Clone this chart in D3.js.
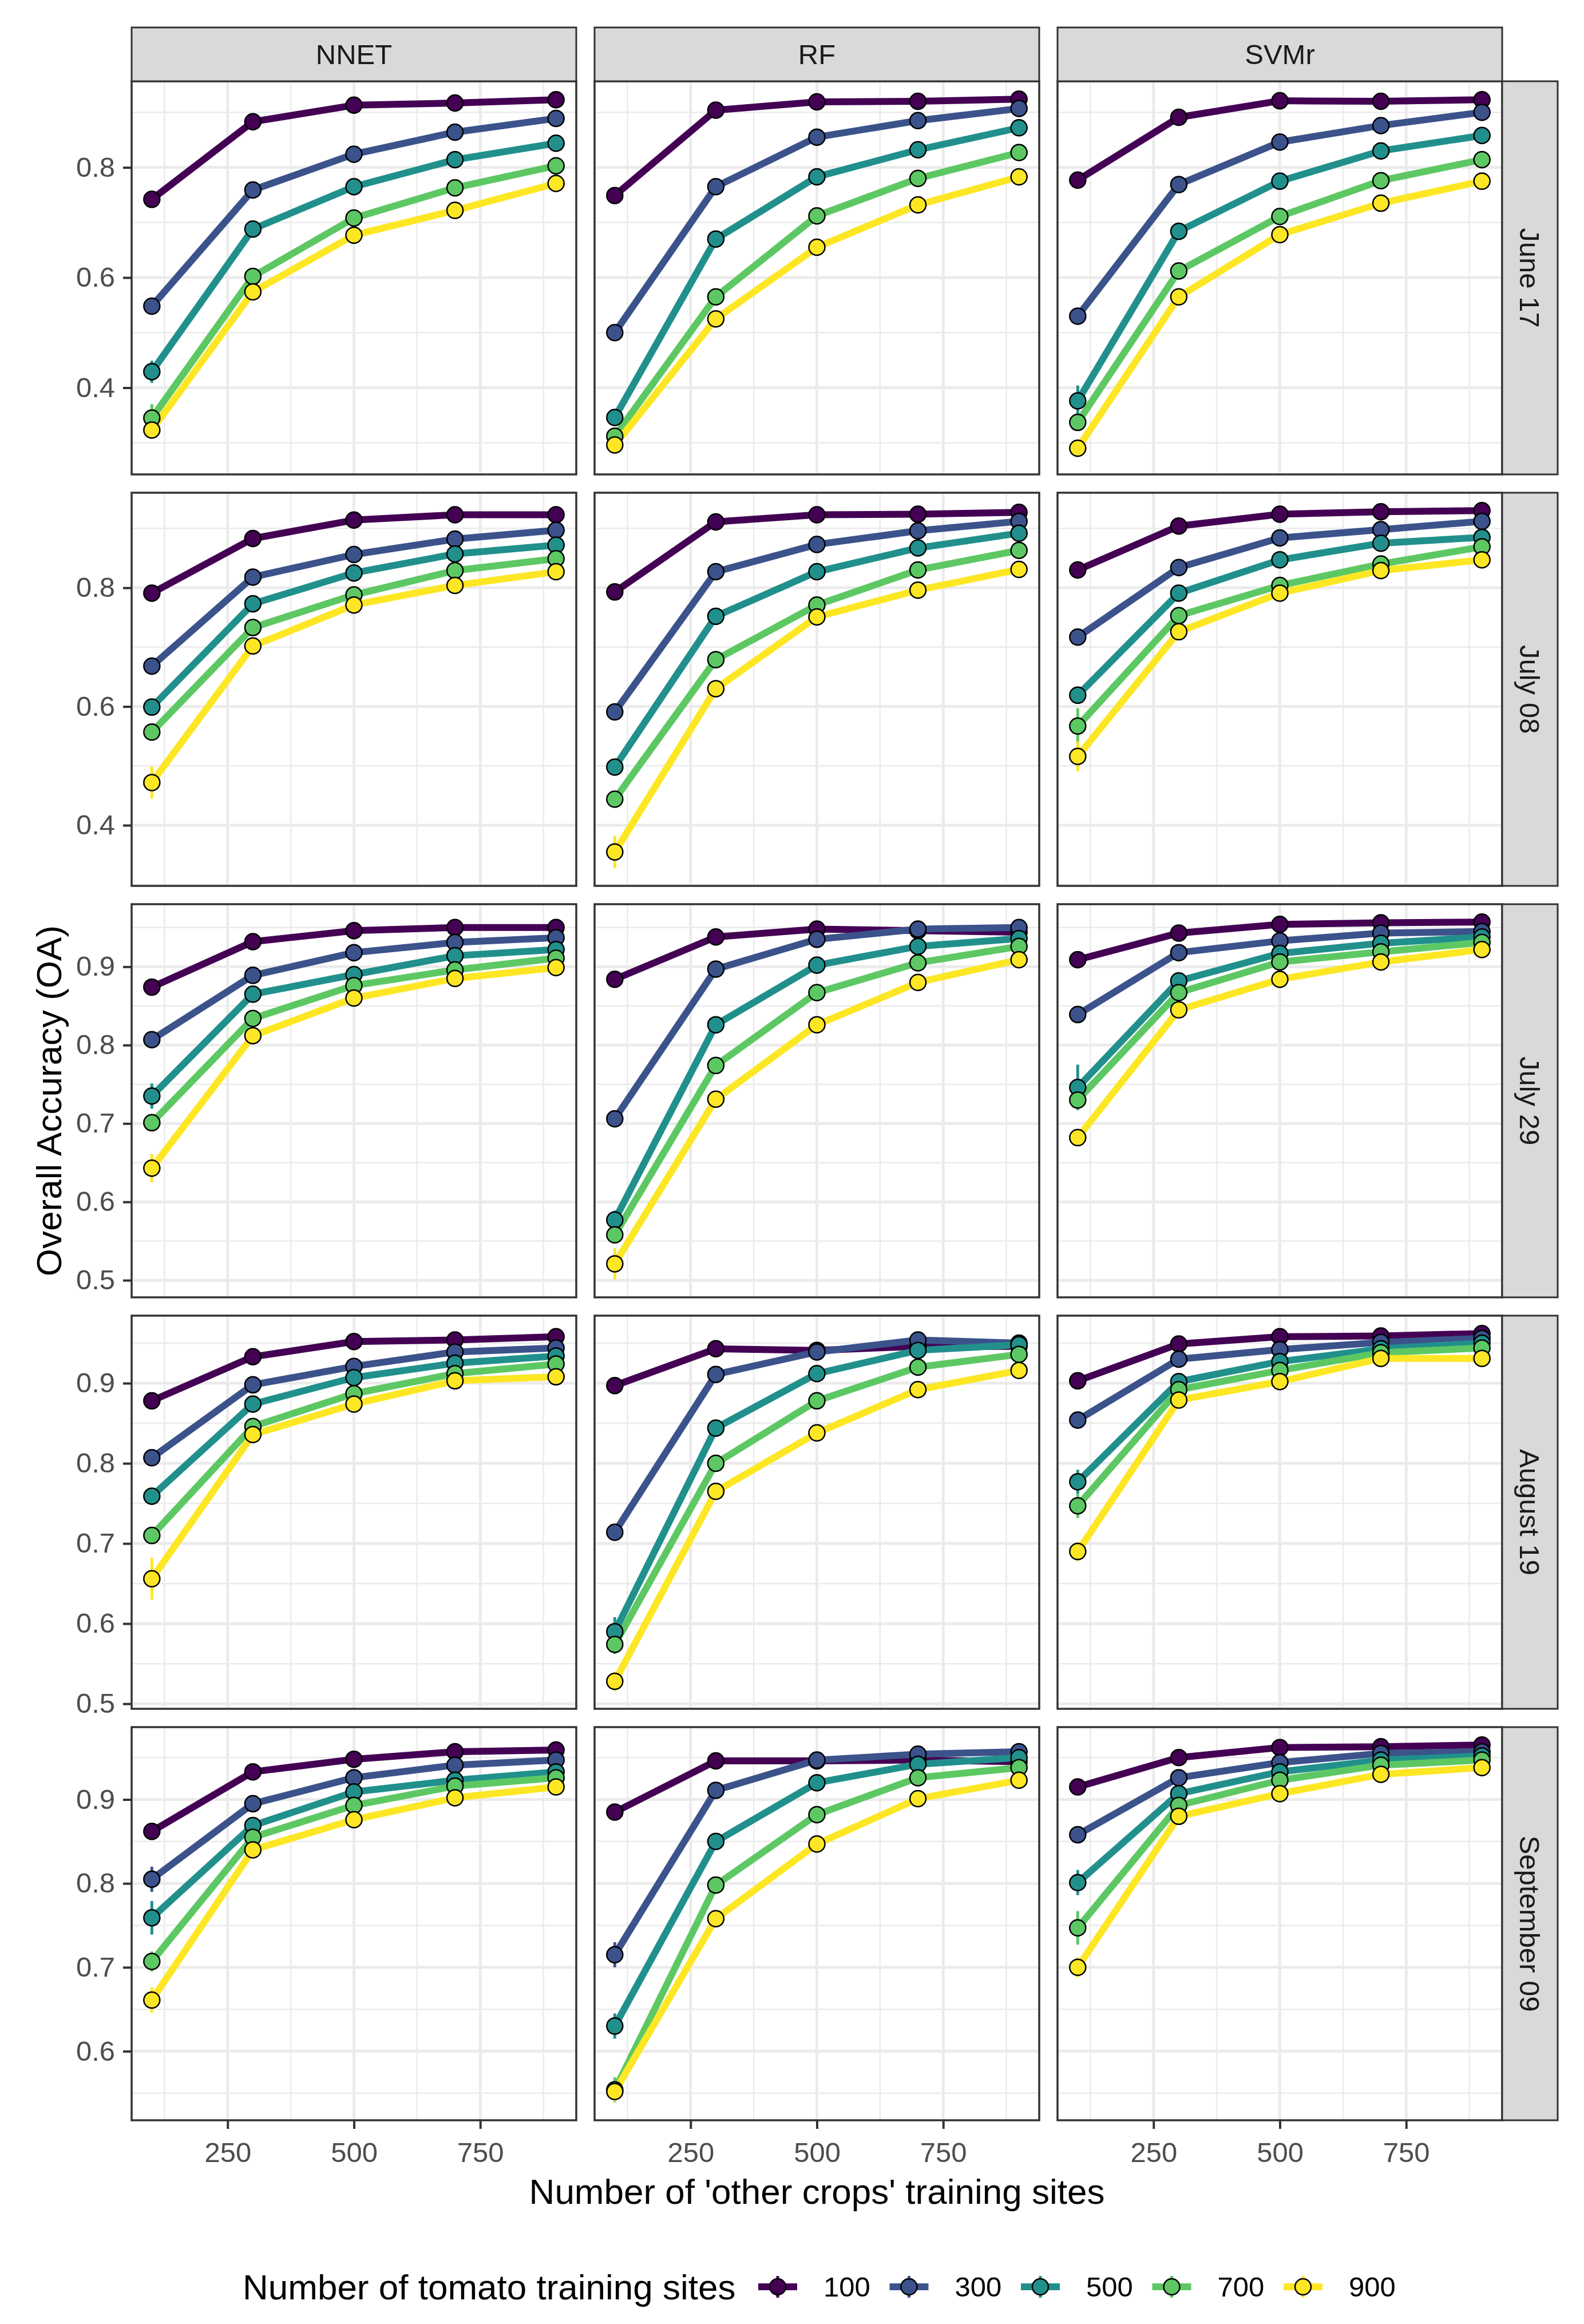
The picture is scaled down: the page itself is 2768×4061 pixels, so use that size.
<!DOCTYPE html>
<html>
<head>
<meta charset="utf-8">
<script src="https://cdn.jsdelivr.net/npm/d3@7"></script>
<style>
  body { margin: 0; background: #fff; }
  text { font-family: "Liberation Sans", Arial, sans-serif; }
</style>
</head>
<body>
<div id="chart"></div>
<script>
// facets and groups
var models = ["NNET", "RF", "SVMr"];
var dates = ["June 17", "July 08", "July 29", "August 19", "September 09"];
var otherCrops = [100, 300, 500, 700, 900];
var tomatoSites = ["100", "300", "500", "700", "900"];
var xTicks = [250, 500, 750];
var yTicksByDate = [
    [0.4, 0.6, 0.8],
    [0.4, 0.6, 0.8],
    [0.5, 0.6, 0.7, 0.8, 0.9],
    [0.5, 0.6, 0.7, 0.8, 0.9],
    [0.6, 0.7, 0.8, 0.9]
];

// overall accuracy, [date][tomato series][other crops]
var oaNNET = [
    [[0.742, 0.883, 0.913, 0.917, 0.923], [0.548, 0.759, 0.824, 0.864, 0.889], [0.429, 0.688, 0.765, 0.814, 0.844], [0.345, 0.602, 0.708, 0.763, 0.803], [0.323, 0.574, 0.677, 0.722, 0.771]],
    [[0.791, 0.883, 0.914, 0.923, 0.923], [0.668, 0.818, 0.856, 0.882, 0.897], [0.599, 0.773, 0.825, 0.857, 0.872], [0.557, 0.733, 0.788, 0.829, 0.849], [0.472, 0.702, 0.771, 0.804, 0.827]],
    [[0.874, 0.932, 0.946, 0.950, 0.950], [0.807, 0.889, 0.918, 0.931, 0.937], [0.735, 0.865, 0.890, 0.914, 0.922], [0.701, 0.834, 0.876, 0.896, 0.911], [0.643, 0.812, 0.860, 0.885, 0.899]],
    [[0.878, 0.933, 0.952, 0.954, 0.958], [0.807, 0.898, 0.921, 0.939, 0.944], [0.759, 0.874, 0.907, 0.925, 0.934], [0.710, 0.846, 0.887, 0.912, 0.924], [0.656, 0.836, 0.874, 0.903, 0.908]],
    [[0.862, 0.933, 0.948, 0.957, 0.959], [0.805, 0.895, 0.926, 0.941, 0.947], [0.759, 0.869, 0.909, 0.923, 0.933], [0.707, 0.855, 0.893, 0.916, 0.926], [0.661, 0.840, 0.876, 0.902, 0.915]]
];
var oaRF = [
    [[0.749, 0.904, 0.919, 0.920, 0.924], [0.500, 0.765, 0.855, 0.885, 0.907], [0.346, 0.670, 0.783, 0.832, 0.872], [0.312, 0.565, 0.712, 0.780, 0.827], [0.296, 0.525, 0.655, 0.732, 0.783]],
    [[0.793, 0.911, 0.923, 0.924, 0.927], [0.591, 0.827, 0.873, 0.896, 0.912], [0.498, 0.752, 0.827, 0.867, 0.892], [0.444, 0.679, 0.771, 0.830, 0.863], [0.355, 0.630, 0.751, 0.796, 0.831]],
    [[0.884, 0.938, 0.948, 0.946, 0.944], [0.706, 0.897, 0.935, 0.948, 0.950], [0.577, 0.826, 0.902, 0.926, 0.936], [0.558, 0.774, 0.867, 0.905, 0.926], [0.521, 0.731, 0.826, 0.880, 0.909]],
    [[0.897, 0.943, 0.941, 0.946, 0.946], [0.714, 0.911, 0.939, 0.954, 0.950], [0.590, 0.844, 0.912, 0.941, 0.948], [0.574, 0.800, 0.878, 0.920, 0.936], [0.528, 0.765, 0.838, 0.892, 0.916]],
    [[0.885, 0.946, 0.946, 0.947, 0.945], [0.715, 0.911, 0.947, 0.954, 0.957], [0.630, 0.850, 0.920, 0.942, 0.950], [0.554, 0.798, 0.882, 0.926, 0.938], [0.552, 0.758, 0.847, 0.901, 0.923]]
];
var oaSVMr = [
    [[0.777, 0.891, 0.921, 0.920, 0.923], [0.530, 0.769, 0.846, 0.876, 0.900], [0.376, 0.684, 0.775, 0.830, 0.858], [0.337, 0.612, 0.711, 0.776, 0.814], [0.290, 0.565, 0.678, 0.735, 0.775]],
    [[0.830, 0.904, 0.924, 0.928, 0.930], [0.717, 0.834, 0.884, 0.898, 0.912], [0.619, 0.791, 0.847, 0.875, 0.885], [0.567, 0.753, 0.804, 0.840, 0.869], [0.516, 0.726, 0.791, 0.829, 0.847]],
    [[0.909, 0.943, 0.954, 0.956, 0.957], [0.839, 0.918, 0.933, 0.943, 0.945], [0.746, 0.882, 0.917, 0.930, 0.938], [0.730, 0.867, 0.906, 0.919, 0.931], [0.682, 0.845, 0.884, 0.906, 0.922]],
    [[0.903, 0.949, 0.958, 0.959, 0.962], [0.854, 0.930, 0.942, 0.951, 0.956], [0.777, 0.902, 0.927, 0.943, 0.950], [0.747, 0.892, 0.916, 0.938, 0.944], [0.690, 0.879, 0.902, 0.931, 0.931]],
    [[0.915, 0.950, 0.962, 0.963, 0.965], [0.858, 0.926, 0.944, 0.955, 0.957], [0.801, 0.907, 0.933, 0.947, 0.952], [0.747, 0.893, 0.923, 0.941, 0.947], [0.700, 0.880, 0.907, 0.930, 0.938]]
];

// half width of the error bar at 100 'other crops' sites, [date][tomato series]
var errNNET = [[0.005, 0.015, 0.02, 0.025, 0.015], [0.005, 0.008, 0.01, 0.008, 0.027], [0.005, 0.006, 0.016, 0.01, 0.018], [0.005, 0.01, 0.008, 0.01, 0.026], [0.01, 0.015, 0.02, 0.012, 0.015]];
var errRF = [[0.005, 0.008, 0.008, 0.008, 0.008], [0.005, 0.01, 0.008, 0.008, 0.027], [0.005, 0.006, 0.012, 0.01, 0.02], [0.005, 0.006, 0.018, 0.012, 0.012], [0.005, 0.015, 0.015, 0.015, 0.012]];
var errSVMr = [[0.005, 0.01, 0.028, 0.01, 0.015], [0.005, 0.008, 0.01, 0.03, 0.025], [0.005, 0.008, 0.029, 0.012, 0.01], [0.005, 0.006, 0.015, 0.015, 0.012], [0.005, 0.01, 0.015, 0.02, 0.012]];

var viridis = ["#440154", "#3B528B", "#21908C", "#5DC863", "#FDE725"];

var W = 2768, H = 4061;
var left0 = 230, top0 = 142;
var panelW = 777, panelH = 687, gap = 32;
var stripTop = 48, stripW = 97;
var fontAxis = "49px", fontTitle = "62px";

var oa = { NNET: oaNNET, RF: oaRF, SVMr: oaSVMr };
var err = { NNET: errNNET, RF: errRF, SVMr: errSVMr };

var svg = d3.select("#chart").append("svg").attr("width", W).attr("height", H);
svg.append("rect").attr("width", W).attr("height", H).attr("fill", "#fff");

var color = d3.scaleOrdinal().domain(tomatoSites).range(viridis);

// ggplot style 5% expansion
function expand(ext) {
    var d = (ext[1] - ext[0]) * 0.05;
    return [ext[0] - d, ext[1] + d];
}

var x = d3.scaleLinear().domain(expand(d3.extent(otherCrops))).range([0, panelW]);
var xMinor = [];
for (var i = 0; i < xTicks.length; i++) {
    var step = xTicks[1] - xTicks[0];
    if (i == 0) xMinor.push(xTicks[0] - step / 2);
    if (i < xTicks.length - 1) xMinor.push((xTicks[i] + xTicks[i + 1]) / 2);
    else xMinor.push(xTicks[i] + step / 2);
}

var line = d3.line();

dates.forEach(function(date, r) {

    // y range shared across the row
    var lo = [], hi = [];
    models.forEach(function(m) {
        oa[m][r].forEach(function(s, k) {
            lo.push(d3.min(s) , s[0] - err[m][r][k]);
            hi.push(d3.max(s), s[0] + err[m][r][k]);
        });
    });
    var y = d3.scaleLinear().domain(expand([d3.min(lo), d3.max(hi)])).range([panelH, 0]);
    var yt = yTicksByDate[r];
    var ystep = yt[1] - yt[0];
    var yMinor = [yt[0] - ystep / 2];
    yt.forEach(function(t) { yMinor.push(t + ystep / 2); });
    yMinor = yMinor.filter(function(v) { return v >= y.domain()[0] && v <= y.domain()[1]; });

    var rowTop = top0 + r * (panelH + gap);

    models.forEach(function(m, c) {
        var g = svg.append("g").attr("transform", "translate(" + (left0 + c * (panelW + gap)) + "," + rowTop + ")");

        // grid
        g.selectAll(".xminor").data(xMinor).enter().append("line")
            .attr("x1", function(d) { return x(d); }).attr("x2", function(d) { return x(d); })
            .attr("y1", 0).attr("y2", panelH)
            .style("stroke", "#EBEBEB").style("stroke-width", 2.5);
        g.selectAll(".yminor").data(yMinor).enter().append("line")
            .attr("y1", function(d) { return y(d); }).attr("y2", function(d) { return y(d); })
            .attr("x1", 0).attr("x2", panelW)
            .style("stroke", "#EBEBEB").style("stroke-width", 2.5);
        g.selectAll(".xmajor").data(xTicks).enter().append("line")
            .attr("x1", function(d) { return x(d); }).attr("x2", function(d) { return x(d); })
            .attr("y1", 0).attr("y2", panelH)
            .style("stroke", "#EBEBEB").style("stroke-width", 5);
        g.selectAll(".ymajor").data(yt).enter().append("line")
            .attr("y1", function(d) { return y(d); }).attr("y2", function(d) { return y(d); })
            .attr("x1", 0).attr("x2", panelW)
            .style("stroke", "#EBEBEB").style("stroke-width", 5);

        var series = oa[m][r];

        g.selectAll(".line").data(series).enter().append("path")
            .attr("d", function(s) {
                return line(s.map(function(v, j) { return [x(otherCrops[j]), y(v)]; }));
            })
            .style("fill", "none")
            .style("stroke", function(s, k) { return color(tomatoSites[k]); })
            .style("stroke-width", 12)
            .style("stroke-linejoin", "round");

        g.selectAll(".err").data(series).enter().append("line")
            .attr("x1", x(otherCrops[0])).attr("x2", x(otherCrops[0]))
            .attr("y1", function(s, k) { return y(s[0] - err[m][r][k]); })
            .attr("y2", function(s, k) { return y(s[0] + err[m][r][k]); })
            .style("stroke", function(s, k) { return color(tomatoSites[k]); })
            .style("stroke-width", 5);

        series.forEach(function(s, k) {
            g.selectAll(".pt" + k).data(s).enter().append("circle")
                .attr("cx", function(v, j) { return x(otherCrops[j]); })
                .attr("cy", function(v) { return y(v); })
                .attr("r", 14)
                .style("fill", color(tomatoSites[k]))
                .style("stroke", "#000")
                .style("stroke-width", 2.5);
        });

        g.append("rect").attr("width", panelW).attr("height", panelH)
            .style("fill", "none").style("stroke", "#333333").style("stroke-width", 3.5);

        if (c == 0) {
            var ay = g.append("g").call(d3.axisLeft(y).tickValues(yt).tickSize(15).tickPadding(14).tickFormat(d3.format(".1f")));
            ay.select(".domain").remove();
            ay.selectAll("line").style("stroke", "#333333").style("stroke-width", 4);
            ay.selectAll("text").style("font-size", fontAxis).style("fill", "#4D4D4D")
                .style("font-family", "'Liberation Sans', Arial, sans-serif");
        }
        if (r == dates.length - 1) {
            var ax = g.append("g").attr("transform", "translate(0," + panelH + ")")
                .call(d3.axisBottom(x).tickValues(xTicks).tickSize(15).tickPadding(23));
            ax.select(".domain").remove();
            ax.selectAll("line").style("stroke", "#333333").style("stroke-width", 4);
            ax.selectAll("text").style("font-size", fontAxis).style("fill", "#4D4D4D")
                .style("font-family", "'Liberation Sans', Arial, sans-serif");
        }

        if (r == 0) {
            svg.append("rect")
                .attr("x", left0 + c * (panelW + gap)).attr("y", stripTop)
                .attr("width", panelW).attr("height", top0 - stripTop)
                .style("fill", "#D9D9D9").style("stroke", "#333333").style("stroke-width", 3);
            svg.append("text")
                .attr("x", left0 + c * (panelW + gap) + panelW / 2).attr("y", (stripTop + top0) / 2)
                .attr("dy", "0.35em").attr("text-anchor", "middle")
                .style("font-size", fontAxis).style("fill", "#1A1A1A").text(m);
        }
    });

    // date strip on the right
    var sx = left0 + 3 * panelW + 2 * gap;
    svg.append("rect").attr("x", sx).attr("y", rowTop).attr("width", stripW).attr("height", panelH)
        .style("fill", "#D9D9D9").style("stroke", "#333333").style("stroke-width", 3);
    svg.append("text")
        .attr("transform", "translate(" + (sx + stripW / 2) + "," + (rowTop + panelH / 2) + ") rotate(90)")
        .attr("dy", "0.35em").attr("text-anchor", "middle")
        .style("font-size", fontAxis).style("fill", "#1A1A1A").text(date);
});

var gridRight = left0 + 3 * panelW + 2 * gap;
var gridBottom = top0 + dates.length * panelH + (dates.length - 1) * gap;

svg.append("text")
    .attr("x", (left0 + gridRight) / 2).attr("y", 3829)
    .attr("dy", "0.35em").attr("text-anchor", "middle")
    .style("font-size", fontTitle).style("fill", "#000")
    .text("Number of 'other crops' training sites");

svg.append("text")
    .attr("transform", "translate(85," + (top0 + gridBottom) / 2 + ") rotate(-90)")
    .attr("dy", "0.35em").attr("text-anchor", "middle")
    .style("font-size", fontTitle).style("fill", "#000")
    .text("Overall Accuracy (OA)");

// legend
var ly = 3996;
svg.append("text").attr("x", 424).attr("y", ly).attr("dy", "0.35em")
    .style("font-size", fontTitle).style("fill", "#000")
    .text("Number of tomato training sites");

var lx = d3.scalePoint().domain(tomatoSites).range([1359, 2277]);
var keys = svg.selectAll(".key").data(tomatoSites).enter().append("g")
    .attr("transform", function(d) { return "translate(" + lx(d) + "," + ly + ")"; });
keys.append("line").attr("x1", -34).attr("x2", 34)
    .style("stroke", function(d) { return color(d); }).style("stroke-width", 12);
keys.append("line").attr("y1", -19).attr("y2", 19)
    .style("stroke", function(d) { return color(d); }).style("stroke-width", 5);
keys.append("circle").attr("r", 14)
    .style("fill", function(d) { return color(d); })
    .style("stroke", "#000").style("stroke-width", 2.5);
keys.append("text").attr("x", 80).attr("dy", "0.35em")
    .style("font-size", fontAxis).style("fill", "#000")
    .text(function(d) { return d; });
</script>
</body>
</html>
